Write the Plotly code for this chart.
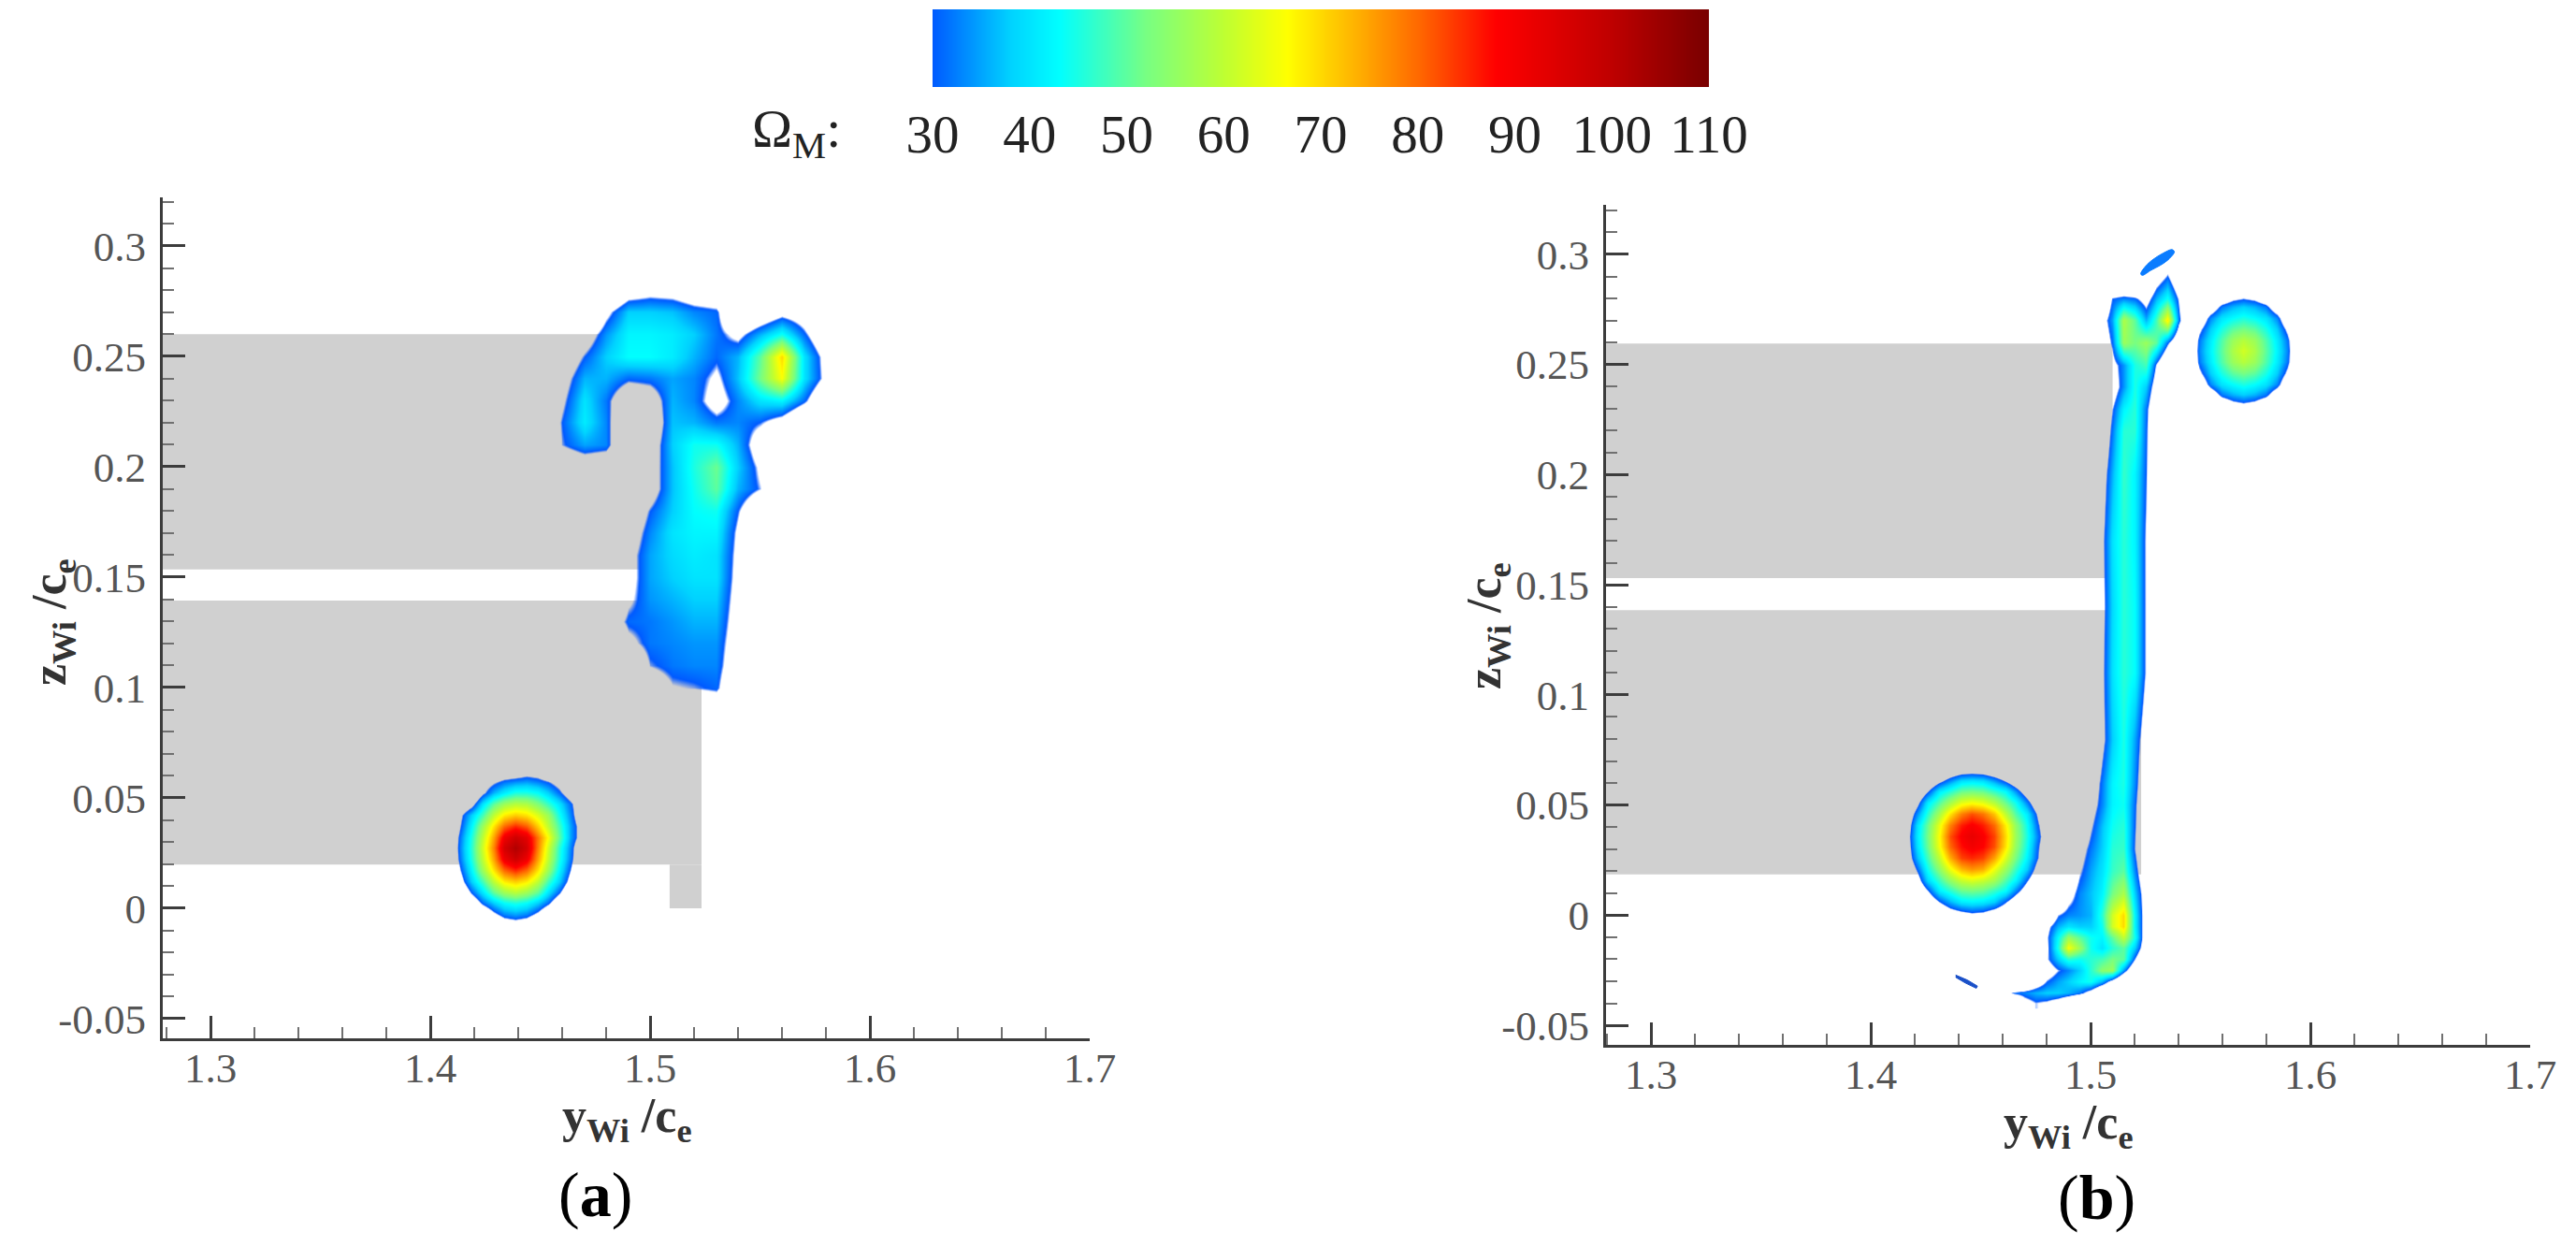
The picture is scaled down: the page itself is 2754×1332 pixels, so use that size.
import plotly.graph_objects as go

W, H = 2754, 1332
FONT = "Liberation Serif"
GRAY = "#d0d0d0"
AXC = "#3c3c3c"
TXT = "#555555"

# --- colour bar ---
cbar_ticks = [30, 40, 50, 60, 70, 80, 90, 100, 110]
cbar_values = list(range(30, 111))
colour_anchors = [(30, (0, 90, 255)), (33, (0, 135, 255)), (38, (0, 210, 255)), (43, (0, 255, 255)),
                  (52, (120, 255, 130)), (60, (190, 255, 50)), (66.5, (255, 255, 0)), (72, (255, 195, 0)),
                  (80, (255, 105, 0)), (88, (255, 0, 0)), (100, (190, 0, 0)), (110, (120, 0, 0))]

# --- axes ---
x_ticks = [1.3, 1.4, 1.5, 1.6, 1.7]
x_labels = ["1.3", "1.4", "1.5", "1.6", "1.7"]
z_ticks = [-0.05, 0, 0.05, 0.1, 0.15, 0.2, 0.25, 0.3]
z_labels = ["-0.05", "0", "0.05", "0.1", "0.15", "0.2", "0.25", "0.3"]

# --- gray body rectangles: (y0, y1, z0, z1) ---
gray_a = [(1.2783, 1.51, 0.1535, 0.26), (1.2783, 1.5234, 0.0198, 0.1394), (1.5089, 1.5234, 0.0, 0.0198)]
gray_b = [(1.2795, 1.51, 0.153, 0.2595), (1.2795, 1.523, 0.0185, 0.1385)]

# --- panel (a): main structure ---
a_main_y = [1.45, 1.46, 1.47, 1.48, 1.49, 1.50, 1.51, 1.52, 1.53, 1.54, 1.55, 1.56, 1.57, 1.58, 1.59]
a_main_z = [.28, .27, .26, .25, .24, .23, .22, .21, .20, .19, .18, .17, .16, .15, .14, .13, .12, .11, .10, .09]
a_main_v = [
    [0, 0, 0, 10, 22, 25, 24, 20, 18, 8, 5, 12, 5, 0, 0],
    [0, 0, 8, 26, 38, 38, 37, 33, 31, 12, 18, 25, 22, 8, 0],
    [0, 10, 22, 34, 42, 42, 41, 38, 32, 26, 36, 44, 31, 18, 0],
    [5, 19, 30, 38, 43, 43, 41, 36, 31, 36, 50, 70, 40, 25, 5],
    [8, 24, 36, 36, 31, 32, 35, 33, 27, 37, 52, 66, 40, 26, 5],
    [12, 27, 40, 32, 18, 22, 36, 33, 24, 33, 40, 42, 31, 15, 0],
    [15, 30, 41, 33, 12, 18, 37, 36, 32, 33, 30, 24, 12, 0, 0],
    [12, 29, 35, 33, 12, 22, 38, 44, 44, 36, 22, 8, 0, 0, 0],
    [0, 17, 20, 18, 8, 23, 37, 45, 51, 38, 27, 6, 0, 0, 0],
    [0, 0, 5, 5, 8, 23, 37, 44, 50, 36, 29, 5, 0, 0, 0],
    [0, 0, 0, 5, 18, 30, 38, 43, 44, 30, 15, 0, 0, 0, 0],
    [0, 0, 0, 8, 22, 33, 40, 42, 42, 27, 8, 0, 0, 0, 0],
    [0, 0, 0, 10, 25, 35, 39, 41, 40, 26, 6, 0, 0, 0, 0],
    [0, 0, 0, 10, 25, 35, 38, 40, 40, 25, 6, 0, 0, 0, 0],
    [0, 0, 0, 12, 27, 34, 36, 38, 38, 24, 6, 0, 0, 0, 0],
    [0, 0, 0, 20, 31, 32, 34, 36, 36, 23, 5, 0, 0, 0, 0],
    [0, 0, 0, 10, 26, 32, 33, 34, 34, 22, 5, 0, 0, 0, 0],
    [0, 0, 0, 4, 14, 29, 32, 33, 33, 20, 4, 0, 0, 0, 0],
    [0, 0, 0, 0, 5, 20, 28, 29, 31, 15, 2, 0, 0, 0, 0],
    [0, 0, 0, 0, 0, 5, 12, 15, 18, 6, 0, 0, 0, 0, 0],
]

# --- panel (a): tip vortex ---
a_tip_y = [1.4037, 1.4087, 1.4137, 1.4187, 1.4237, 1.4287, 1.4337, 1.4387, 1.4437, 1.4487, 1.4537, 1.4587, 1.4637, 1.4687, 1.4737]
a_tip_z = [.0673, .0623, .0573, .0523, .0473, .0423, .0373, .0323, .0273, .0223, .0173, .0123, .0073, .0023, -.0027, -.0077, -.0127]
a_tip_v = [
    [0, 0, 0, 3, 6, 9, 11, 12, 11, 10, 8, 5, 1, 0, 0],
    [0, 0, 4, 9, 13, 18, 20, 21, 24, 23, 18, 11, 6, 2, 0],
    [0, 3, 8, 14, 23, 28, 32, 34, 35, 33, 30, 25, 16, 9, 4],
    [0, 0, 6, 14, 27, 36, 41, 45, 45, 43, 38, 31, 22, 13, 6],
    [4, 7, 18, 25, 40, 50, 56, 59, 58, 53, 47, 40, 31, 20, 10],
    [5, 12, 27, 38, 48, 60, 68, 71, 69, 63, 56, 44, 33, 20, 11],
    [6, 15, 29, 42, 56, 69, 80, 85, 81, 71, 60, 48, 35, 24, 14],
    [8, 18, 32, 45, 60, 75, 91, 97, 93, 79, 66, 50, 35, 24, 15],
    [8, 18, 33, 46, 62, 78, 96, 102, 96, 78, 62, 46, 33, 18, 8],
    [8, 18, 32, 45, 60, 75, 91, 97, 91, 75, 60, 45, 32, 18, 8],
    [6, 15, 29, 42, 56, 69, 80, 85, 80, 69, 56, 42, 29, 15, 6],
    [5, 12, 25, 38, 48, 60, 68, 71, 68, 60, 48, 38, 25, 12, 5],
    [3, 7, 18, 30, 40, 50, 56, 59, 56, 50, 40, 30, 18, 7, 3],
    [0, 3, 8, 20, 31, 38, 43, 45, 43, 38, 31, 20, 8, 3, 0],
    [0, 0, 2, 10, 18, 27, 33, 35, 33, 27, 18, 10, 2, 0, 0],
    [0, 0, 0, 3, 8, 14, 21, 23, 21, 14, 8, 3, 0, 0, 0],
    [0, 0, 0, 0, 1, 5, 9, 12, 9, 5, 1, 0, 0, 0, 0],
]

# --- panel (b): inner vortex ---
b_tip_y = [1.416, 1.421, 1.426, 1.431, 1.436, 1.441, 1.446, 1.451, 1.456, 1.461, 1.466, 1.471, 1.476, 1.481]
b_tip_z = [.066, .061, .056, .051, .046, .041, .036, .031, .026, .021, .016, .011, .006, .001, -.004]
b_tip_v = [
    [0, 4, 10, 15, 20, 23, 24, 23, 20, 17, 12, 7, 1, 0],
    [4, 11, 19, 27, 34, 40, 41, 40, 35, 29, 22, 14, 9, 2],
    [10, 19, 29, 41, 46, 51, 52, 51, 47, 43, 34, 23, 14, 9],
    [15, 27, 41, 49, 57, 64, 66, 64, 59, 51, 44, 33, 20, 11],
    [20, 34, 46, 57, 69, 78, 82, 79, 72, 60, 49, 41, 27, 15],
    [22, 40, 51, 64, 78, 86, 89, 86, 80, 68, 55, 44, 30, 18],
    [24, 41, 52, 66, 82, 89, 92, 89, 83, 70, 56, 45, 32, 19],
    [23, 40, 51, 65, 80, 87, 90, 88, 82, 69, 55, 44, 30, 18],
    [22, 37, 48, 60, 74, 83, 85, 83, 75, 63, 52, 42, 29, 17],
    [18, 31, 44, 54, 65, 73, 76, 74, 65, 56, 47, 38, 24, 14],
    [14, 25, 39, 47, 55, 61, 63, 61, 57, 49, 42, 30, 19, 10],
    [10, 19, 29, 41, 46, 51, 52, 51, 47, 43, 33, 23, 14, 8],
    [5, 12, 20, 29, 36, 41, 42, 41, 38, 30, 22, 15, 9, 1],
    [0, 6, 12, 18, 24, 27, 29, 28, 24, 20, 14, 9, 2, 0],
    [0, 0, 5, 5, 14, 16, 17, 16, 14, 5, 5, 0, 0, 0],
]

# --- panel (b): outer vortex ---
b_out_y = [1.5396, 1.5446, 1.5496, 1.5546, 1.5596, 1.5646, 1.5696, 1.5746, 1.5796, 1.5846, 1.5896, 1.5946, 1.5996]
b_out_z = [.2912, .2862, .2812, .2762, .2712, .2662, .2612, .2562, .2512, .2462, .2412, .2362, .2312, .2262, .2212]
b_out_v = [
    [0, 0, 0, 0, 1, 2, 3, 2, 1, 0, 0, 0, 0],
    [0, 0, 3, 6, 9, 11, 12, 11, 9, 6, 3, 0, 0],
    [0, 0, 4, 11, 18, 24, 26, 24, 18, 11, 4, 0, 0],
    [0, 3, 11, 21, 32, 36, 38, 36, 32, 21, 11, 3, 0],
    [1, 7, 19, 33, 40, 43, 45, 43, 40, 33, 19, 7, 1],
    [2, 11, 27, 38, 45, 50, 52, 50, 45, 38, 27, 11, 2],
    [5, 14, 32, 41, 49, 56, 59, 56, 49, 41, 32, 14, 5],
    [4, 15, 33, 42, 50, 58, 62, 58, 50, 42, 33, 15, 4],
    [5, 14, 32, 41, 49, 56, 59, 56, 49, 41, 32, 14, 5],
    [2, 11, 27, 38, 45, 50, 52, 50, 45, 38, 27, 11, 2],
    [1, 7, 19, 33, 40, 43, 45, 43, 40, 33, 19, 7, 1],
    [0, 3, 11, 21, 32, 36, 38, 36, 32, 21, 11, 3, 0],
    [0, 0, 4, 11, 18, 24, 26, 24, 18, 11, 4, 0, 0],
    [0, 0, 3, 6, 9, 11, 12, 11, 9, 6, 3, 0, 0],
    [0, 0, 0, 0, 1, 2, 3, 2, 1, 0, 0, 0, 0],
]

# --- panel (b): sheet / stem ---
b_sheet_y = [1.46, 1.465, 1.47, 1.475, 1.48, 1.485, 1.49, 1.495, 1.50, 1.505, 1.51, 1.515, 1.52, 1.525, 1.53, 1.535, 1.54, 1.545]
b_sheet_z = [.30, .29, .28, .27, .26, .25, .24, .23, .22, .20, .17, .14, .11, .08, .06, .05, .04, .03, .02, .01, 0,
             -.005, -.01, -.015, -.02, -.025, -.03, -.035, -.04]
b_sheet_v = [
    [0, 0, 0, 0, 0, 0, 0, 0, 0, 0, 0, 0, 0, 0, 0, 18, 10, 0],
    [0, 0, 0, 0, 0, 0, 0, 0, 0, 0, 0, 0, 0, 8, 22, 30, 16, 0],
    [0, 0, 0, 0, 0, 0, 0, 0, 0, 14, 30, 33, 31, 24, 36, 44, 28, 8],
    [0, 0, 0, 0, 0, 0, 0, 0, 0, 24, 35, 58, 50, 36, 48, 68, 32, 12],
    [0, 0, 0, 0, 0, 0, 0, 0, 0, 20, 31, 56, 52, 56, 50, 31, 16, 0],
    [0, 0, 0, 0, 0, 0, 0, 0, 0, 10, 25, 34, 45, 48, 28, 12, 0, 0],
    [0, 0, 0, 0, 0, 0, 0, 0, 0, 8, 22, 34, 45, 38, 22, 8, 0, 0],
    [0, 0, 0, 0, 0, 0, 0, 0, 0, 16, 29, 42, 46, 32, 16, 0, 0, 0],
    [0, 0, 0, 0, 0, 0, 0, 0, 0, 18, 32, 46, 46, 31, 15, 0, 0, 0],
    [0, 0, 0, 0, 0, 0, 0, 0, 10, 24, 36, 47, 42, 30, 14, 0, 0, 0],
    [0, 0, 0, 0, 0, 0, 0, 0, 12, 27, 40, 46, 42, 28, 13, 0, 0, 0],
    [0, 0, 0, 0, 0, 0, 0, 0, 11, 26, 39, 46, 43, 28, 13, 0, 0, 0],
    [0, 0, 0, 0, 0, 0, 0, 0, 12, 27, 40, 46, 43, 28, 13, 0, 0, 0],
    [0, 0, 0, 0, 0, 0, 0, 0, 10, 26, 38, 45, 35, 22, 10, 0, 0, 0],
    [0, 0, 0, 0, 0, 0, 0, 8, 20, 32, 42, 45, 33, 18, 6, 0, 0, 0],
    [0, 0, 0, 0, 0, 0, 0, 10, 24, 33, 42, 44, 31, 16, 5, 0, 0, 0],
    [0, 0, 0, 0, 0, 0, 0, 16, 28, 37, 44, 46, 30, 16, 5, 0, 0, 0],
    [0, 0, 0, 0, 0, 0, 8, 24, 32, 38, 46, 47, 29, 15, 5, 0, 0, 0],
    [0, 0, 0, 0, 0, 6, 16, 28, 35, 40, 47, 50, 33, 18, 6, 0, 0, 0],
    [0, 0, 0, 0, 0, 10, 24, 33, 37, 42, 52, 58, 38, 22, 8, 0, 0, 0],
    [0, 0, 0, 0, 14, 29, 33, 34, 36, 46, 62, 70, 42, 22, 8, 0, 0, 0],
    [0, 0, 0, 8, 26, 36, 40, 38, 38, 44, 62, 70, 42, 22, 8, 0, 0, 0],
    [0, 0, 0, 9, 28, 43, 56, 50, 44, 42, 50, 60, 44, 21, 8, 0, 0, 0],
    [0, 0, 0, 7, 27, 45, 66, 56, 44, 40, 46, 50, 38, 20, 6, 0, 0, 0],
    [0, 0, 0, 8, 28, 38, 46, 44, 46, 48, 52, 50, 29, 13, 3, 0, 0, 0],
    [0, 0, 0, 5, 22, 29, 33, 38, 46, 54, 56, 34, 16, 5, 0, 0, 0, 0],
    [0, 0, 8, 20, 30, 35, 38, 42, 44, 36, 24, 10, 3, 0, 0, 0, 0, 0],
    [22, 31, 33, 36, 38, 38, 36, 32, 24, 12, 4, 0, 0, 0, 0, 0, 0, 0],
    [0, 10, 24, 29, 27, 22, 14, 6, 0, 0, 0, 0, 0, 0, 0, 0, 0, 0],
]

# --- panel (b): small detached slivers (outline points) ---
sliver_top_y = [1.5228, 1.5258, 1.5294, 1.5331, 1.5370, 1.5381, 1.5353, 1.5316, 1.5276, 1.5235, 1.5228]
sliver_top_z = [.2912, .2955, .2984, .3006, .3022, .3012, .2976, .2950, .2929, .2905, .2912]
sliver_low_y = [1.4386, 1.4440, 1.4485, 1.4480, 1.4430, 1.4386]
sliver_low_z = [-.0272, -.0295, -.0322, -.0332, -.0308, -.0282]

ZMAX = 110.0


def frac(v):
    return v / ZMAX


def make_scale():
    stops = [[0, "rgba(0,80,255,0)"], [frac(28.5), "rgba(0,80,255,0)"]]
    for v, c in colour_anchors:
        stops.append([frac(v), "rgb(%d,%d,%d)" % c])
    return stops


SCALE = make_scale()


def hm(y, z, v, xa, ya):
    return go.Heatmap(x=y, y=z[::-1], z=v[::-1], xaxis=xa, yaxis=ya, zmin=0, zmax=ZMAX, zsmooth="best",
                      colorscale=SCALE, showscale=False, hoverinfo="skip")


fig = go.Figure()
fig.add_trace(hm(a_main_y, a_main_z, a_main_v, "x", "y"))
fig.add_trace(hm(a_tip_y, a_tip_z, a_tip_v, "x", "y"))
fig.add_trace(hm(b_sheet_y, b_sheet_z, b_sheet_v, "x2", "y2"))
fig.add_trace(hm(b_tip_y, b_tip_z, b_tip_v, "x2", "y2"))
fig.add_trace(hm(b_out_y, b_out_z, b_out_v, "x2", "y2"))
fig.add_trace(go.Scatter(x=sliver_top_y, y=sliver_top_z, xaxis="x2", yaxis="y2", mode="lines", fill="toself",
                         fillcolor="#0a7cff", line=dict(color="#0a7cff", width=1, shape="spline"),
                         hoverinfo="skip", showlegend=False))
fig.add_trace(go.Scatter(x=sliver_low_y, y=sliver_low_z, xaxis="x2", yaxis="y2", mode="lines", fill="toself",
                         fillcolor="#1a50c8", line=dict(color="#1a50c8", width=1), hoverinfo="skip", showlegend=False))
fig.add_trace(go.Heatmap(x=cbar_values, y=[0, 1], z=[cbar_values, cbar_values], xaxis="x3", yaxis="y3",
                         zmin=0, zmax=ZMAX, zsmooth="best", colorscale=SCALE, showscale=False, hoverinfo="skip"))


def px_x(a, b):
    return [a / W, b / W]


def px_y(top, bottom):
    return [1 - bottom / H, 1 - top / H]


def xaxis(dom, rng, anchor):
    return dict(domain=dom, range=rng, anchor=anchor, automargin=False, showgrid=False, zeroline=False, showline=True,
                linewidth=3, linecolor=AXC, ticks="inside", ticklen=24, tickwidth=3, tickcolor=AXC, tickmode="array",
                tickvals=x_ticks, ticktext=x_labels, tickangle=0, ticklabelstandoff=-10,
                tickfont=dict(family=FONT, size=45, color=TXT),
                minor=dict(ticks="inside", dtick=0.02, tick0=1.3, ticklen=12, tickwidth=2, tickcolor="#707070"))


def yaxis(dom, rng, anchor):
    return dict(domain=dom, range=rng, anchor=anchor, automargin=False, showgrid=False, zeroline=False, showline=True,
                linewidth=3, linecolor=AXC, ticks="inside", ticklen=24, tickwidth=3, tickcolor=AXC, tickmode="array",
                tickvals=z_ticks, ticktext=z_labels, ticklabelstandoff=6, tickfont=dict(family=FONT, size=45, color=TXT),
                minor=dict(ticks="inside", dtick=0.01, tick0=0, ticklen=12, tickwidth=2, tickcolor="#707070"))


shapes = []
for ref, rects in (("", gray_a), ("2", gray_b)):
    for y0, y1, z0, z1 in rects:
        shapes.append(dict(type="rect", xref="x" + ref, yref="y" + ref, x0=y0, x1=y1, y0=z0, y1=z1,
                           fillcolor=GRAY, line=dict(width=0), layer="below"))


def note(text, px, py, size, color="#222222", angle=0):
    return dict(text=text, x=px / W, y=1 - py / H, xref="paper", yref="paper", xanchor="center", yanchor="middle",
                showarrow=False, textangle=angle, font=dict(family=FONT, size=size, color=color))


annotations = [
    note("<b>y<sub>Wi</sub> /c<sub>e</sub></b>", 670, 1196, 52, "#333333"),
    note("<b>y<sub>Wi</sub> /c<sub>e</sub></b>", 2211, 1203, 52, "#333333"),
    note("<b>z<sub>Wi</sub> /c<sub>e</sub></b>", 56, 665, 52, "#333333", -90),
    note("<b>z<sub>Wi</sub> /c<sub>e</sub></b>", 1590, 669, 52, "#333333", -90),
    note("(<b>a</b>)", 636, 1277, 68, "#000000"),
    note("(<b>b</b>)", 2241, 1280, 68, "#000000"),
    note("Ω<sub>M</sub>:", 851, 142, 58, "#222222"),
]

fig.update_layout(
    width=W, height=H, margin=dict(l=0, r=0, t=0, b=0), paper_bgcolor="white", plot_bgcolor="white",
    showlegend=False, shapes=shapes, annotations=annotations,
    xaxis=xaxis(px_x(174, 1165), [1.2783, 1.7], "y"),
    yaxis=yaxis(px_y(211, 1110), [-0.0589, 0.322], "x"),
    xaxis2=xaxis(px_x(1717, 2705), [1.2795, 1.7], "y2"),
    yaxis2=yaxis(px_y(219, 1117), [-0.0589, 0.3225], "x2"),
    xaxis3=dict(domain=px_x(997, 1827), range=[30, 110], anchor="y3", automargin=False, showgrid=False, zeroline=False,
                showline=False, ticks="", tickmode="array", tickvals=cbar_ticks, ticktext=[str(t) for t in cbar_ticks],
                tickangle=0, ticklabelstandoff=12, tickfont=dict(family=FONT, size=57, color="#222222")),
    yaxis3=dict(domain=px_y(10, 93), range=[0, 1], anchor="x3", automargin=False, showgrid=False, zeroline=False,
                showline=False, showticklabels=False, ticks=""),
)

fig.write_html("out.html", config=dict(displayModeBar=False), post_script="document.body.style.margin='0';")
